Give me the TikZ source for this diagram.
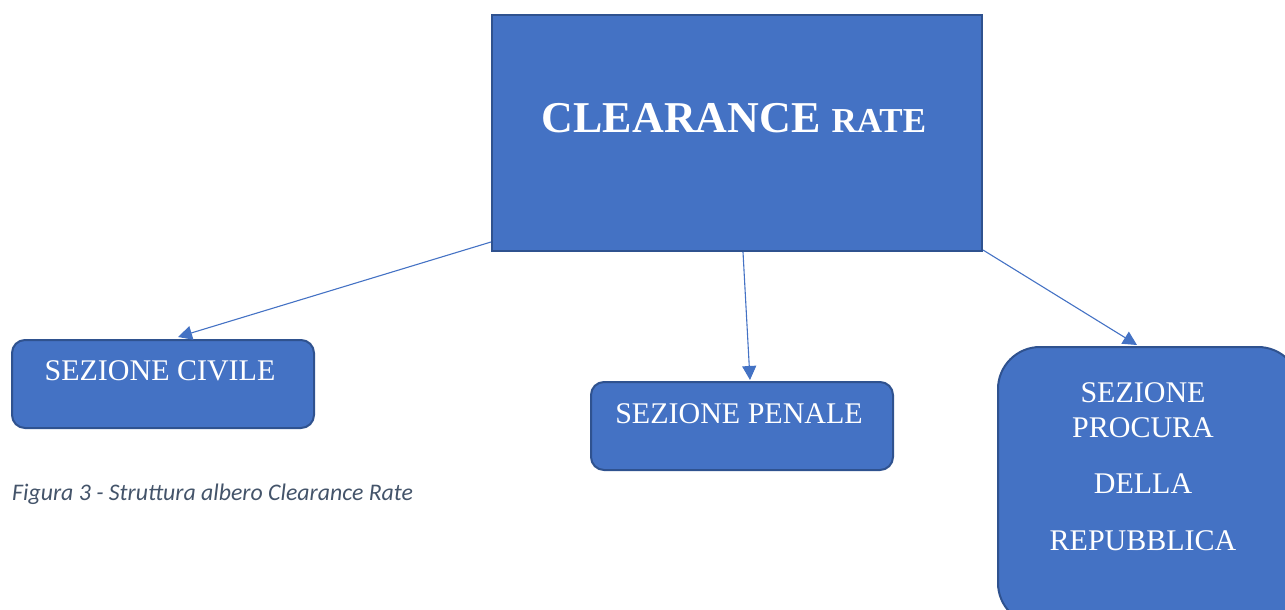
\documentclass[tikz,border=0pt]{standalone}
\usepackage{fontspec}
\setmainfont{Liberation Serif}
\newfontfamily\capfont{Carlito}
\usetikzlibrary{arrows.meta,calc}
\definecolor{boxfill}{HTML}{4472C4}
\definecolor{boxedge}{HTML}{2F528F}
\definecolor{captext}{HTML}{44546A}
\tikzset{
  rootbox/.style={draw=boxedge,fill=boxfill,line width=2pt,inner sep=0pt},
  leafbox/.style={rootbox,rounded corners=13pt,minimum width=302pt,minimum height=88pt},
  boxtext/.style={text=white,anchor=base,inner sep=0pt,align=center},
  link/.style={draw=boxfill,line width=1.1pt,-{Triangle[length=14pt,width=14pt]}},
}
\begin{document}
\begin{tikzpicture}[x=1pt,y=-1pt]
\useasboundingbox (0,0) rectangle (1285,610);
% boxes
\node[rootbox,minimum width=490pt,minimum height=236pt] (root) at (737,133) {};
\node[leafbox] (civ) at (163,384) {};
\node[leafbox] (pen) at (742,426) {};
\node[rootbox,rounded corners=42pt,minimum width=302pt,minimum height=278pt] (proc) at (1149,486) {};
% box texts
\node[boxtext,font=\fontsize{44}{44}\selectfont\bfseries] (roott) at (734,132)
  {CLEARANCE {\fontsize{35}{35}\selectfont RATE}};
\node[boxtext,font=\fontsize{30}{30}\selectfont] (civt) at (160,380) {SEZIONE CIVILE};
\node[boxtext,font=\fontsize{30}{30}\selectfont] (pent) at (739,423) {SEZIONE PENALE};
\node[boxtext,font=\fontsize{30}{30}\selectfont] (proct1) at (1143,402) {SEZIONE};
\node[boxtext,font=\fontsize{30}{30}\selectfont] (proct2) at (1143,437) {PROCURA};
\node[boxtext,font=\fontsize{30}{30}\selectfont] (proct3) at (1143,493) {DELLA};
\node[boxtext,font=\fontsize{30}{30}\selectfont] (proct4) at (1143,550) {REPUBBLICA};
% caption
\node[anchor=base west,inner sep=0pt,text=captext,font=\capfont\fontsize{23.8}{24}\selectfont\itshape] (cap) at (12,500)
  {Figura 3 - Struttura albero Clearance Rate};
% connectors
\draw[link] ($(root.south west)+(0,-10)$) -- ($(civ.north)+(15,-2)$);
\draw[link] ($(root.south)+(6,0)$) -- ($(pen.north)+(8,-1)$);
\draw[link] ($(root.south east)+(0,-2)$) -- ($(proc.north)+(-12,-1)$);
\end{tikzpicture}
\end{document}
